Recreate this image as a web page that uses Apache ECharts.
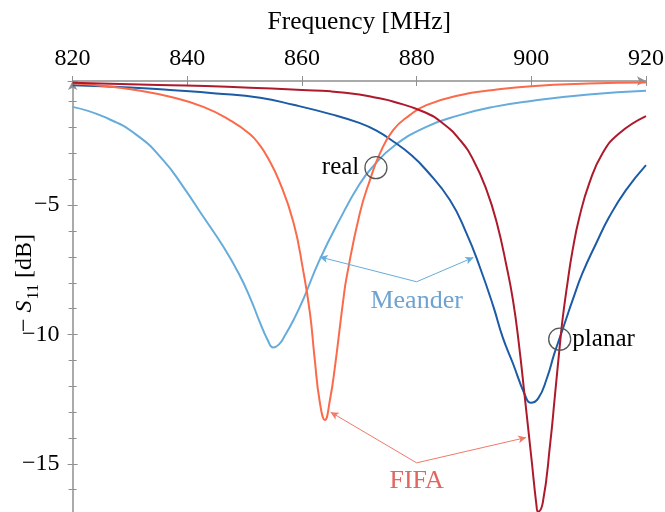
<!DOCTYPE html>
<html>
<head>
<meta charset="utf-8">
<script src="https://cdn.jsdelivr.net/npm/echarts@6/dist/echarts.min.js"></script>
<style>html,body{margin:0;padding:0;background:#fff}#c{width:665px;height:512px}</style>
</head>
<body>
<div id="c"></div>
<script>
// ---- data ----
const xTicks = [820, 840, 860, 880, 900, 920];
const yTicks = [-5, -10, -15];

const meanderRealFreq = [820,825.4,831.2,835.8,839.3,842.8,846.3,849,851,852.7,854,855,856,857,858.5,860.3,863,866.6,870,872.4,876,881.7,887.5,893.4,900,910,920];
const meanderRealS11  = [-1.2,-1.58,-2.29,-3.26,-4.29,-5.45,-6.61,-7.65,-8.6,-9.55,-10.2,-10.5,-10.38,-10.05,-9.45,-8.6,-7.15,-5.55,-4.2,-3.5,-2.72,-1.97,-1.52,-1.2,-0.97,-0.72,-0.58];

const fifaRealFreq = [820,825,831,837,842.8,847.4,850.9,852.7,854,856,858.5,860.2,861.4,862.2,863.1,864,864.9,865.75,867.2,867.8,870.1,871.9,873.6,875.9,878.8,881.7,887.5,893.4,900,910,920];
const fifaRealS11  = [-0.29,-0.38,-0.55,-0.81,-1.2,-1.71,-2.25,-2.7,-3.15,-4.05,-5.65,-7.51,-9.18,-10.9,-12.6,-13.3,-12.5,-11.25,-8.67,-7.77,-5.3,-4.0,-3.0,-2.1,-1.52,-1.13,-0.75,-0.55,-0.4,-0.3,-0.26];

const meanderPlanarFreq = [820,830,837,845,852.7,858.5,865,870,873,876,879,881.7,885.8,888.7,891,893.4,895,896.8,898.9,899.9,901.2,902.7,904,905,906,907.2,908.9,911.3,913.6,916.5,920];
const meanderPlanarS11  = [-0.36,-0.45,-0.55,-0.68,-0.85,-1.12,-1.48,-1.82,-2.12,-2.55,-3.05,-3.65,-4.8,-6.09,-7.38,-8.93,-10.1,-11.12,-12.34,-12.64,-12.47,-11.7,-10.75,-10.1,-9.45,-8.67,-7.64,-6.48,-5.45,-4.42,-3.45];

const fifaPlanarFreq = [820,835,847,860,865,870,873,876,881.2,884.6,887.6,889.9,892.2,894,895.7,896.8,897.8,898.9,900.05,900.9,901.15,902,903.3,904.1,905,905.5,906.3,907.2,908.4,910.1,912.4,915.3,920];
const fifaPlanarS11  = [-0.27,-0.35,-0.42,-0.55,-0.6,-0.72,-0.85,-1.0,-1.39,-1.84,-2.49,-3.26,-4.42,-5.7,-7.38,-8.67,-10.3,-12.5,-14.85,-16.6,-16.85,-16.5,-14.2,-12.4,-10.35,-9.32,-8.02,-6.74,-5.45,-4.16,-3.0,-2.23,-1.56];

// annotations
const circleNames = ['real', 'planar'];
const circleFreq  = [872.9, 904.95];
const circleS11   = [-3.55, -10.18];

const groupNames = ['Meander', 'FIFA'];
const groupLabelFreq = [880, 880];
const groupLabelS11  = [-8.73, -15.65];
const arrowFromFreq = [880, 880];
const arrowFromS11  = [-7.96, -14.96];
const arrowToFreq = [[863.1, 889.9], [865.0, 899.1]];
const arrowToS11  = [[-7.0, -7.02], [-13.0, -13.98]];

// ---- chart ----
const FONT = '"Liberation Serif", "DejaVu Serif", serif';
const TXT = '#000000';
const AXC = '#8f8f8f';
const C_LB = '#66acdb', C_DB = '#1c5ba6', C_SA = '#fb6a4a', C_DR = '#ad1a2c';
const C_MEANDER = '#4a8cc6', C_FIFA = '#d9403a';

const zip = (a, b) => a.map((v, i) => [v, b[i]]);
const minus = v => (v < 0 ? '\u2212' : '') + Math.abs(v);

function curve(name, f, s, color) {
  return {
    name, type: 'line', data: zip(f, s), xAxisIndex: 0, yAxisIndex: 0,
    showSymbol: false, smooth: 0.5,
    lineStyle: { color, width: 2 }, itemStyle: { color }, silent: true, z: 3
  };
}

function arrows(i, color) {
  return {
    type: 'line', data: [], xAxisIndex: 0, yAxisIndex: 0, silent: true,
    markLine: {
      silent: true, animation: false,
      symbol: ['none', 'arrow'], symbolSize: [6, 8],
      label: { show: false },
      lineStyle: { color, width: 1, type: 'solid' },
      emphasis: { disabled: true },
      data: arrowToFreq[i].map((f, k) => [
        { coord: [arrowFromFreq[i], arrowFromS11[i]] },
        { coord: [f, arrowToS11[i][k]] }
      ])
    }
  };
}

const chart = echarts.init(document.getElementById('c'), null, { renderer: 'canvas' });
const gridTop = 81, pxPerDb = 25.87, yMin = -20, yMax = -0.2;
chart.setOption({
  animation: false,
  backgroundColor: '#fff',
  grid: { left: 72.6, top: gridTop, width: 573.4, height: (yMax - yMin) * pxPerDb, containLabel: false, outerBoundsMode: 'none' },
  xAxis: [{
    type: 'value', position: 'top', min: 820, max: 920, interval: 20,
    name: 'Frequency [MHz]', nameLocation: 'middle', nameGap: 46,
    nameTextStyle: { fontFamily: FONT, fontSize: 25.5, color: TXT },
    axisLine: { show: true, onZero: false, symbol: ['none', 'arrow'], symbolSize: [7, 9], lineStyle: { color: AXC, width: 1.5 } },
    axisTick: { show: true, inside: false, length: 5, lineStyle: { color: AXC, width: 1 } },
    axisLabel: { show: true, margin: 10, fontFamily: FONT, fontSize: 24, color: TXT,
      formatter: v => xTicks.includes(v) ? String(v) : '' },
    splitLine: { show: false }
  }, {
    type: 'value', position: 'top', min: 820, max: 920, interval: 20,
    axisLine: { show: false }, axisLabel: { show: false }, splitLine: { show: false },
    axisTick: { show: true, inside: true, length: 5, lineStyle: { color: AXC, width: 1 } }
  }],
  yAxis: [{
    type: 'value', position: 'left', min: yMin, max: yMax, interval: 5,
    axisLine: { show: true, onZero: false, symbol: ['none', 'arrow'], symbolSize: [7, 9], lineStyle: { color: AXC, width: 1.5 } },
    axisTick: { show: true, inside: false, length: 5, lineStyle: { color: AXC, width: 1 } },
    minorTick: { show: true, splitNumber: 5, length: 4, lineStyle: { color: AXC, width: 1 } },
    axisLabel: { show: true, margin: 13, fontFamily: FONT, fontSize: 24, color: TXT,
      formatter: v => yTicks.includes(v) ? minus(v) : '' },
    splitLine: { show: false }, minorSplitLine: { show: false }
  }, {
    type: 'value', position: 'left', min: yMin, max: yMax, interval: 5,
    axisLine: { show: false }, axisLabel: { show: false }, splitLine: { show: false },
    axisTick: { show: true, inside: true, length: 5, lineStyle: { color: AXC, width: 1 } },
    minorTick: { show: true, splitNumber: 5, length: 4, lineStyle: { color: AXC, width: 1 } }
  }],
  graphic: [{
    type: 'text', x: 25, y: 283, rotation: Math.PI / 2,
    style: {
      text: '{n|\u2212 }{i|S}{s|11}{n| [dB]}',
      align: 'center', verticalAlign: 'middle', fill: TXT,
      rich: {
        n: { fontFamily: FONT, fontSize: 24, color: TXT },
        i: { fontFamily: FONT, fontSize: 24, fontStyle: 'italic', color: TXT },
        s: { fontFamily: FONT, fontSize: 16, color: TXT, lineHeight: 16, verticalAlign: 'top', padding: [13, 0, 0, 1] }
      }
    }
  }],
  series: [
    curve('Meander real', meanderRealFreq, meanderRealS11, C_LB),
    curve('Meander planar', meanderPlanarFreq, meanderPlanarS11, C_DB),
    curve('FIFA real', fifaRealFreq, fifaRealS11, C_SA),
    curve('FIFA planar', fifaPlanarFreq, fifaPlanarS11, C_DR),
    arrows(0, C_LB),
    arrows(1, '#f0796a'),
    {
      type: 'scatter', silent: true, xAxisIndex: 0, yAxisIndex: 0, z: 5,
      symbol: 'circle', symbolSize: 22,
      itemStyle: { color: 'rgba(0,0,0,0)', borderColor: '#555', borderWidth: 1.3, opacity: 1 },
      data: circleNames.map((n, i) => ({
        name: n, value: [circleFreq[i], circleS11[i]],
        label: { show: true, formatter: '{b}', position: i === 0 ? 'left' : 'right', distance: i === 0 ? 5 : 1,
          fontFamily: FONT, fontSize: 25, color: TXT, opacity: 1 }
      }))
    },
    {
      type: 'scatter', silent: true, xAxisIndex: 0, yAxisIndex: 0, z: 5,
      symbol: 'circle', symbolSize: 1, itemStyle: { color: 'rgba(0,0,0,0)' },
      data: groupNames.map((n, i) => ({
        name: n, value: [groupLabelFreq[i], groupLabelS11[i]],
        label: { show: true, formatter: '{b}', position: 'inside',
          fontFamily: FONT, fontSize: 26, color: i === 0 ? C_MEANDER : C_FIFA }
      }))
    }
  ]
});
</script>
</body>
</html>
